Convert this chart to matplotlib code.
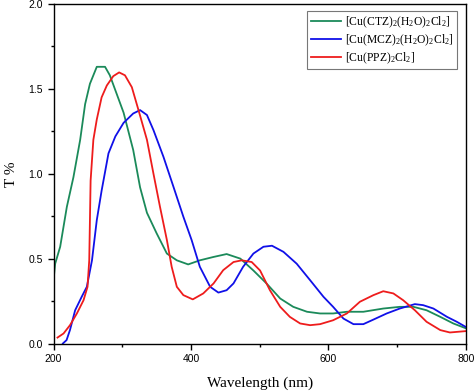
import matplotlib
matplotlib.use("Agg")
import matplotlib.pyplot as plt
from matplotlib.ticker import MultipleLocator

ctz_x = [200, 202.4, 209.7, 219.4, 229, 238.8, 246, 253, 263, 275, 282, 292, 302, 316, 326, 336, 350, 365, 379.5, 396, 413, 433, 452, 472, 491, 510, 530, 549, 569, 588, 607, 627, 651, 680, 704, 724, 743, 763, 782, 800]
ctz_y = [0.373, 0.47, 0.57, 0.805, 0.98, 1.2, 1.41, 1.53, 1.63, 1.63, 1.58, 1.47, 1.36, 1.14, 0.92, 0.77, 0.65, 0.53, 0.49, 0.466, 0.49, 0.51, 0.527, 0.50, 0.43, 0.354, 0.265, 0.216, 0.187, 0.177, 0.177, 0.187, 0.187, 0.206, 0.216, 0.216, 0.196, 0.157, 0.118, 0.09]

mcz_x = [213.6, 219, 224, 231.5, 241, 248.5, 256, 263, 270, 280, 290, 302, 316, 326, 336, 345.5, 360, 374.6, 389, 401, 413, 428, 440, 452, 462, 476, 491, 505.6, 518, 534.7, 554, 573.5, 593, 607, 622, 636.6, 651, 665.7, 685, 704, 726, 738, 753, 772.8, 787, 800]
mcz_y = [0.0, 0.02, 0.08, 0.196, 0.275, 0.334, 0.49, 0.727, 0.90, 1.12, 1.22, 1.30, 1.355, 1.375, 1.346, 1.257, 1.10, 0.923, 0.747, 0.61, 0.452, 0.334, 0.30, 0.314, 0.354, 0.452, 0.53, 0.57, 0.576, 0.54, 0.47, 0.373, 0.275, 0.216, 0.147, 0.114, 0.114, 0.141, 0.177, 0.206, 0.232, 0.226, 0.206, 0.157, 0.128, 0.098]

ppz_x = [205.8, 214.6, 224, 234, 243.7, 249.5, 252, 254, 258, 263, 270, 277.6, 287, 295.5, 304, 314, 323.7, 336, 345.5, 355, 365, 372, 379.5, 389, 402.7, 418, 433, 447, 462, 474, 488.5, 500.7, 515, 530, 544, 559, 573.5, 588, 607, 627, 646, 665.7, 680, 694.7, 709, 726, 743, 763, 777, 800]
ppz_y = [0.035, 0.059, 0.108, 0.177, 0.255, 0.334, 0.49, 0.96, 1.2, 1.32, 1.45, 1.52, 1.575, 1.597, 1.58, 1.51, 1.375, 1.2, 1.0, 0.805, 0.61, 0.452, 0.334, 0.285, 0.26, 0.295, 0.354, 0.432, 0.48, 0.49, 0.48, 0.43, 0.314, 0.216, 0.157, 0.118, 0.108, 0.114, 0.137, 0.177, 0.246, 0.285, 0.308, 0.295, 0.255, 0.196, 0.128, 0.079, 0.065, 0.073]

labels = [r"[Cu(CTZ)$_2$(H$_2$O)$_2$Cl$_2$]",
          r"[Cu(MCZ)$_2$(H$_2$O)$_2$Cl$_2$]",
          r"[Cu(PPZ)$_2$Cl$_2$]"]
colors = ["#1b8a5a", "#1010e8", "#ee1c1c"]

plt.rcParams["mathtext.fontset"] = "custom"
plt.rcParams["mathtext.rm"] = "Liberation Serif"
plt.rcParams["mathtext.it"] = "Liberation Serif"
plt.rcParams["mathtext.default"] = "rm"

fig = plt.figure(figsize=(4.74, 3.92), dpi=100)
ax = fig.add_axes([0.1129, 0.1237, 0.9825 - 0.1129, 0.9898 - 0.1237])

for x, y, c, l in zip([ctz_x, mcz_x, ppz_x], [ctz_y, mcz_y, ppz_y], colors, labels):
    ax.plot(x, y, color=c, lw=1.3, label=l)

ax.set_xlim(200, 800)
ax.set_ylim(0, 2.0)
ax.xaxis.set_major_locator(MultipleLocator(200))
ax.xaxis.set_minor_locator(MultipleLocator(100))
ax.yaxis.set_major_locator(MultipleLocator(0.5))
ax.yaxis.set_minor_locator(MultipleLocator(0.25))
ax.set_yticks([0.0, 0.5, 1.0, 1.5, 2.0])
ax.set_yticklabels(["0.0", "0.5", "1.0", "1.5", "2.0"])
ax.tick_params(which="both", direction="out", width=1.0, labelsize=7.5)
ax.tick_params(which="major", length=4)
ax.tick_params(which="minor", length=2.5)
for lab in ax.get_xticklabels() + ax.get_yticklabels():
    lab.set_fontfamily("Liberation Sans")
for s in ax.spines.values():
    s.set_linewidth(1.0)

ax.set_xlabel("Wavelength (nm)", family="Liberation Serif", fontsize=11, labelpad=9)
ax.set_ylabel("T %", family="Liberation Serif", fontsize=11)
ax.yaxis.set_label_coords(-0.085, 0.5)

leg = ax.legend(loc="upper right", bbox_to_anchor=(0.979, 0.979), frameon=True, fancybox=False,
                edgecolor="#555555", prop={"family": "Liberation Serif", "size": 8.4},
                handlelength=2.6, handletextpad=0.3, borderpad=0.3, labelspacing=0.2,
                borderaxespad=0.0)
leg.get_frame().set_linewidth(0.8)

fig.savefig("out.png", dpi=100)
